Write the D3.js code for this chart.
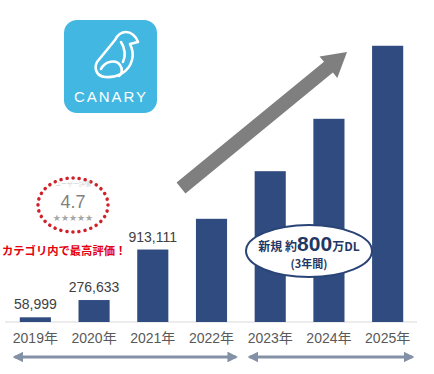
<!DOCTYPE html>
<html>
<head>
<meta charset="utf-8">
<script src="https://cdn.jsdelivr.net/npm/d3@7"></script>
<style>
  html, body { margin: 0; padding: 0; background: #fff; }
  svg { display: block; font-family: "Liberation Sans", Arial, sans-serif; }
</style>
</head>
<body>
<script>
// downloads per year (2022+)
var years = ['2019年', '2020年', '2021年', '2022年', '2023年', '2024年', '2025年'];
var downloads = [58999, 276633, 913111, 1300000, 1900000, 2560000, 3480000];
var shownLabels = ['58,999', '276,633', '913,111', '', '', '', ''];

var W = 434, H = 374;
var baseY = 322;

var svg = d3.select(document.body).append('svg')
  .attr('width', W)
  .attr('height', H);

var defs = svg.append('defs');
defs.append('marker')
  .attr('id', 'tip')
  .attr('viewBox', '0 0 10 10')
  .attr('refX', 8).attr('refY', 5)
  .attr('markerWidth', 3.6).attr('markerHeight', 3.6)
  .attr('orient', 'auto-start-reverse')
  .append('path')
  .attr('d', 'M0,0 L10,5 L0,10 Z')
  .attr('fill', '#8391a7');

var x = d3.scaleBand()
  .domain(years)
  .range([6, 417])
  .paddingInner(0.47)
  .paddingOuter(0.235);

var y = d3.scaleLinear()
  .domain([0, 4000000])
  .range([baseY, 4.5]);

// baseline + year labels
var xAxis = d3.axisBottom(x).tickSize(0).tickPadding(11);
var gx = svg.append('g')
  .attr('transform', 'translate(0,' + baseY + ')')
  .call(xAxis);
gx.select('.domain').attr('stroke', '#d9d9d9').attr('stroke-width', 1.2)
  .attr('d', 'M5,0H417');
gx.selectAll('text')
  .attr('fill', '#595959')
  .style('font-size', '14px')
  .style('font-family', '"Liberation Sans", Arial, "Noto Sans CJK JP", sans-serif');

// bars
svg.append('g').selectAll('rect')
  .data(downloads)
  .enter().append('rect')
  .attr('x', function(d, i) { return x(years[i]); })
  .attr('y', function(d) { return y(d); })
  .attr('width', x.bandwidth())
  .attr('height', function(d) { return baseY - y(d); })
  .attr('fill', '#2f4b7f');

svg.append('g').selectAll('text')
  .data(downloads)
  .enter().append('text')
  .attr('x', function(d, i) { return x(years[i]) + x.bandwidth() / 2; })
  .attr('y', function(d) { return y(d) - 8; })
  .attr('text-anchor', 'middle')
  .attr('fill', '#404040')
  .style('font-size', '14px')
  .text(function(d, i) { return shownLabels[i]; });

// period arrows under the axis
var periods = [[0, 3], [4, 6]];
svg.append('g').selectAll('line')
  .data(periods)
  .enter().append('line')
  .attr('x1', function(d) { return x(years[d[0]]) - 5; })
  .attr('x2', function(d) { return x(years[d[1]]) + x.bandwidth() + 9; })
  .attr('y1', 357).attr('y2', 357)
  .attr('stroke', '#8391a7')
  .attr('stroke-width', 3)
  .attr('marker-start', 'url(#tip)')
  .attr('marker-end', 'url(#tip)');

// big grey growth arrow
(function() {
  var x0 = 181, y0 = 188, x1 = 347, y1 = 52;
  var ang = Math.atan2(y1 - y0, x1 - x0);
  var len = Math.hypot(x1 - x0, y1 - y0);
  var sw = 7, hw = 14, hl = 24;
  svg.append('path')
    .attr('transform', 'translate(' + x0 + ',' + y0 + ') rotate(' + (ang * 180 / Math.PI) + ')')
    .attr('d', 'M0,' + (-sw) + 'L' + (len - hl) + ',' + (-sw) + 'L' + (len - hl) + ',' + (-hw) +
      'L' + len + ',0L' + (len - hl) + ',' + hw + 'L' + (len - hl) + ',' + sw + 'L0,' + sw + 'Z')
    .attr('fill', '#7f7f7f');
})();

// ellipse callout
var call = svg.append('g').attr('transform', 'translate(309,251)');
call.append('ellipse')
  .attr('rx', 63).attr('ry', 26)
  .attr('fill', '#fff')
  .attr('stroke', '#2a4477')
  .attr('stroke-width', 2);
var t1 = call.append('text')
  .attr('y', 0)
  .attr('text-anchor', 'middle')
  .attr('fill', '#1f3864')
  .style('font-family', '"Noto Sans CJK JP", sans-serif')
  .style('font-weight', 'bold')
  .style('font-size', '12px');
t1.append('tspan').text('新規 約');
t1.append('tspan').style('font-size', '21px').style('font-family', '"Liberation Sans", Arial, sans-serif').text('800');
t1.append('tspan').text('万DL');
call.append('text')
  .attr('y', 17)
  .attr('text-anchor', 'middle')
  .attr('fill', '#1f3864')
  .style('font-family', '"Noto Sans CJK JP", sans-serif')
  .style('font-weight', 'bold')
  .style('font-size', '11px')
  .text('(3年間)');

// app icon
var logo = svg.append('g').attr('transform', 'translate(64,20)');
logo.append('rect')
  .attr('width', 93).attr('height', 93)
  .attr('rx', 13)
  .attr('fill', '#42b7e2');
logo.append('path')
  .attr('d', 'M51,20 L33,42 C30,48 32,56 41,57 C53,58 65,52 68,40 C70,33 68,28 66,24 L74,22 ' +
    'C72,16 67,12 62,12 C57,12 53,16 51,20 ' +
    'M37,49 C41,41 52,39 56,45 C59,49 58,54 55,56 ' +
    'M57,22 C61,28 62,36 59,42')
  .attr('fill', 'none')
  .attr('stroke', '#fff')
  .attr('stroke-width', 2.6)
  .attr('stroke-linejoin', 'round')
  .attr('stroke-linecap', 'round');
logo.append('text')
  .attr('x', 47).attr('y', 82)
  .attr('text-anchor', 'middle')
  .attr('fill', '#fff')
  .style('font-size', '15px')
  .style('letter-spacing', '2px')
  .text('CANARY');

// rating badge
var badge = svg.append('g').attr('transform', 'translate(73,205)');
badge.append('ellipse')
  .attr('rx', 35).attr('ry', 27)
  .attr('fill', 'none')
  .attr('stroke', '#d0202a')
  .attr('stroke-width', 3.5)
  .attr('stroke-linecap', 'round')
  .attr('stroke-dasharray', '0.1 6');
badge.append('text')
  .attr('y', -19)
  .attr('text-anchor', 'middle')
  .attr('fill', '#cfcfcf')
  .style('font-size', '6px')
  .text('ユーザー評価');
badge.append('text')
  .attr('y', 3)
  .attr('text-anchor', 'middle')
  .attr('fill', '#7f7f7f')
  .style('font-size', '18px')
  .text('4.7');
badge.append('text')
  .attr('y', 16)
  .attr('text-anchor', 'middle')
  .attr('fill', '#a6a6a6')
  .style('font-size', '9px')
  .style('font-family', '"DejaVu Sans", sans-serif')
  .text('★★★★★');

svg.append('text')
  .attr('x', 2).attr('y', 255)
  .attr('fill', '#e3000f')
  .style('font-family', '"Noto Sans CJK JP", sans-serif')
  .style('font-weight', 'bold')
  .style('font-size', '11.3px')
  .text('カテゴリ内で最高評価！');
</script>
</body>
</html>
